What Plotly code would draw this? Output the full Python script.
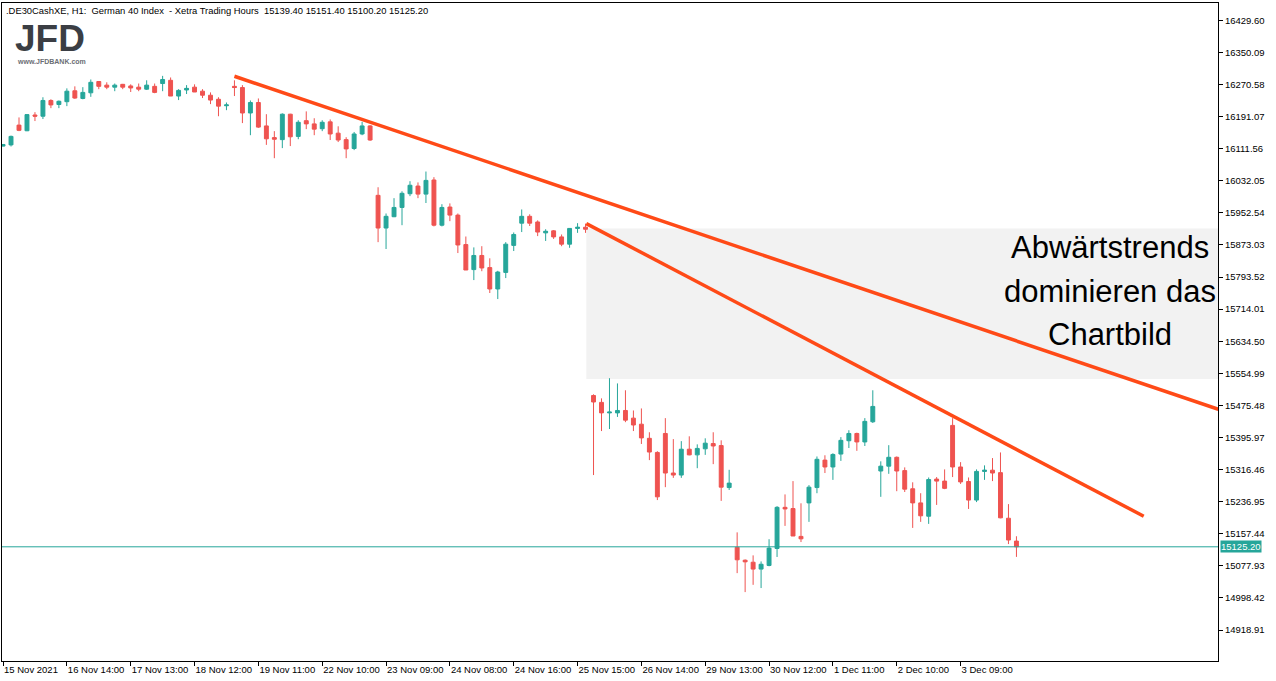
import plotly.graph_objects as go

# .DE30CashXE H1, 15 Nov - 3 Dec 2021 (x = bar number on the chart)
opens = [
    16118, 16121, 16170, 16156, 16195, 16192, 16231, 16221, 16228, 16255,
    16236, 16250, 16278, 16269, 16264, 16271, 16267, 16264, 16259, 16266,
    16273, 16281, 16242, 16257, 16264, 16254, 16244, 16234, 16218, 16266,
    16263, 16200, 16226, 16168, 16139, 16134, 16197, 16142, 16181, 16173,
    16161, 16178, 16150, 16134, 16112, 16148, 16168, 15996, 15915, 15943,
    15966, 16000, 16019, 15999, 16034, 15922, 15967, 15947, 15874, 15812,
    15847, 15817, 15764, 15805, 15872, 15927, 15944, 15930, 15903, 15908,
    15893, 15875, 15914, 15917, 15500, 15483, 15457, 15457, 15463, 15444,
    15429, 15394, 15359, 15406, 15308, 15303, 15367, 15353, 15368, 15381,
    15376, 15272, 15124, 15092, 15087, 15070, 15079, 15121, 15223, 15220,
    15151, 15234, 15272, 15340, 15323, 15355, 15388, 15406, 15385, 15435,
    15313, 15325, 15347, 15314, 15269, 15234, 15201, 15293, 15288, 15426,
    15323, 15287, 15241, 15312, 15315, 15309, 15196, 15139.40,
]
highs = [
    16123, 16144, 16189, 16197, 16202, 16239, 16234, 16231, 16261, 16266,
    16264, 16283, 16279, 16276, 16273, 16272, 16271, 16273, 16281, 16273,
    16292, 16288, 16259, 16269, 16271, 16259, 16251, 16239, 16226, 16281,
    16269, 16231, 16236, 16197, 16155, 16199, 16198, 16182, 16204, 16187,
    16182, 16184, 16167, 16140, 16153, 16178, 16170, 16016, 15951, 15989,
    16006, 16031, 16028, 16055, 16041, 15974, 15976, 15951, 15894, 15867,
    15870, 15840, 15809, 15880, 15904, 15961, 15949, 15934, 15912, 15910,
    15899, 15915, 15927, 15926, 15503, 15493, 15543, 15530, 15513, 15463,
    15468, 15409, 15362, 15444, 15392, 15387, 15399, 15379, 15394, 15409,
    15389, 15316, 15161, 15094, 15104, 15089, 15144, 15226, 15255, 15288,
    15233, 15278, 15349, 15352, 15357, 15397, 15414, 15408, 15444, 15513,
    15337, 15377, 15349, 15322, 15285, 15258, 15297, 15298, 15317, 15444,
    15335, 15297, 15317, 15327, 15345, 15359, 15231, 15151.40,
]
lows = [
    16117, 16117, 16155, 16155, 16180, 16185, 16212, 16212, 16217, 16235,
    16234, 16240, 16259, 16259, 16254, 16259, 16252, 16254, 16257, 16249,
    16254, 16242, 16232, 16247, 16252, 16237, 16222, 16192, 16207, 16242,
    16175, 16145, 16163, 16121, 16088, 16113, 16118, 16135, 16160, 16145,
    16155, 16133, 16128, 16088, 16108, 16145, 16131, 15880, 15863, 15942,
    15922, 15994, 15989, 15977, 15919, 15919, 15932, 15853, 15811, 15786,
    15808, 15754, 15739, 15791, 15858, 15905, 15920, 15895, 15883, 15888,
    15870, 15866, 15903, 15903, 15303, 15412, 15417, 15447, 15434, 15412,
    15380, 15340, 15241, 15273, 15296, 15296, 15352, 15320, 15353, 15330,
    15239, 15266, 15060, 15013, 15031, 15023, 15077, 15100, 15177, 15152,
    15137, 15187, 15258, 15308, 15291, 15338, 15370, 15363, 15375, 15432,
    15249, 15306, 15263, 15261, 15172, 15187, 15182, 15229, 15268, 15298,
    15281, 15219, 15236, 15291, 15288, 15196, 15132, 15100.20,
]
closes = [
    16122, 16142, 16157, 16196, 16192, 16231, 16220, 16229, 16254, 16237,
    16251, 16276, 16266, 16264, 16269, 16264, 16262, 16259, 16269, 16251,
    16283, 16242, 16256, 16261, 16252, 16244, 16232, 16217, 16220, 16263,
    16200, 16226, 16165, 16136, 16135, 16197, 16141, 16177, 16173, 16160,
    16177, 16148, 16133, 16111, 16148, 16168, 16133, 15915, 15944, 15966,
    16001, 16021, 15999, 16033, 15922, 15966, 15947, 15873, 15811, 15847,
    15816, 15764, 15806, 15875, 15899, 15944, 15927, 15905, 15907, 15893,
    15875, 15914, 15917, 15912, 15484, 15457, 15459, 15463, 15439, 15427,
    15395, 15360, 15249, 15308, 15303, 15367, 15353, 15369, 15382, 15375,
    15273, 15283, 15093, 15088, 15070, 15082, 15122, 15223, 15219, 15152,
    15145, 15273, 15342, 15323, 15354, 15389, 15406, 15385, 15436, 15473,
    15325, 15347, 15313, 15268, 15234, 15202, 15292, 15288, 15270, 15323,
    15286, 15241, 15312, 15315, 15308, 15197, 15142, 15125.20,
]

time_tick_bars = [0, 8, 16, 24, 32, 40, 48, 56, 64, 72, 80, 88, 96, 104, 112, 120]
time_tick_labels = [
    "15 Nov 2021", "16 Nov 14:00", "17 Nov 13:00", "18 Nov 12:00",
    "19 Nov 11:00", "22 Nov 10:00", "23 Nov 09:00", "24 Nov 08:00",
    "24 Nov 16:00", "25 Nov 15:00", "26 Nov 14:00", "29 Nov 13:00",
    "30 Nov 12:00", "1 Dec 11:00", "2 Dec 10:00", "3 Dec 09:00",
]
price_tick_labels = [
    "14918.91", "14998.42", "15077.93", "15157.44", "15236.95",
    "15316.46", "15395.97", "15475.48", "15554.99", "15634.50",
    "15714.01", "15793.52", "15873.03", "15952.54", "16032.05",
    "16111.56", "16191.07", "16270.58", "16350.09", "16429.60",
]
last_price = 15125.20

# hand-drawn trend lines and the gap zone (bar number, price)
upper_trend_x = [29.0, 152.3]
upper_trend_y = [16291, 15466]
lower_trend_x = [73.1, 142.95]
lower_trend_y = [15926, 15201]
zone_start = 73.1
zone_low = 15541
zone_high = 15914

UP = "#26a69a"
DOWN = "#ef5350"
TREND = "#ff4a17"
X_RANGE = [-0.13, 152.26]
Y_RANGE = [14842.3, 16472.5]

fig = go.Figure()

fig.add_shape(
    type="rect", xref="x", yref="y",
    x0=zone_start, x1=X_RANGE[1] + 1, y0=zone_low, y1=zone_high,
    fillcolor="#f2f2f2", line=dict(width=0), layer="below",
)
fig.add_shape(
    type="line", xref="paper", yref="y",
    x0=0, x1=1, y0=last_price, y1=last_price,
    line=dict(color=UP, width=1),
)

fig.add_trace(
    go.Candlestick(
        x=list(range(len(opens))),
        open=opens, high=highs, low=lows, close=closes,
        increasing=dict(line=dict(color=UP, width=1), fillcolor=UP),
        decreasing=dict(line=dict(color=DOWN, width=1), fillcolor=DOWN),
        hoverinfo="skip",
    )
)

for xs, ys in [(upper_trend_x, upper_trend_y), (lower_trend_x, lower_trend_y)]:
    fig.add_trace(
        go.Scatter(x=xs, y=ys, mode="lines", line=dict(color=TREND, width=3.5), hoverinfo="skip")
    )

tick_font = dict(family="Liberation Sans", size=9.5, color="black")

fig.update_layout(
    width=1276,
    height=681,
    margin=dict(l=2, r=58, t=3, b=20),
    paper_bgcolor="white",
    plot_bgcolor="white",
    showlegend=False,
    font=tick_font,
    xaxis=dict(
        type="linear",
        range=X_RANGE,
        tickvals=time_tick_bars,
        ticktext=time_tick_labels,
        tickangle=0,
        ticks="outside",
        ticklen=4,
        tickcolor="black",
        ticklabelposition="outside right",
        showline=True,
        linecolor="black",
        linewidth=1,
        mirror=True,
        showgrid=False,
        zeroline=False,
        rangeslider=dict(visible=False),
    ),
    yaxis=dict(
        side="right",
        range=Y_RANGE,
        tickvals=[float(t) for t in price_tick_labels],
        ticktext=price_tick_labels,
        ticks="outside",
        ticklen=4,
        tickcolor="black",
        showline=True,
        linecolor="black",
        linewidth=1,
        mirror=True,
        showgrid=False,
        zeroline=False,
    ),
)

header = ".DE30CashXE, H1:&nbsp; German 40 Index&nbsp; - Xetra Trading Hours&nbsp; 15139.40 15151.40 15100.20 15125.20"
fig.add_annotation(
    xref="paper", yref="paper", x=0.002, y=1.0, xanchor="left", yanchor="top",
    text=header, showarrow=False, font=dict(family="Liberation Sans", size=9.4, color="black"),
)
fig.add_annotation(
    xref="paper", yref="paper", x=0.009, y=0.98, xanchor="left", yanchor="top",
    text="<b>JFD</b>", showarrow=False,
    font=dict(family="Liberation Sans", size=37, color="#3b3e44"),
)
fig.add_annotation(
    xref="paper", yref="paper", x=0.011, y=0.92, xanchor="left", yanchor="top",
    text="<b>www.JFDBANK.com</b>", showarrow=False,
    font=dict(family="Liberation Sans", size=7, color="#6b6e74"),
)

for text, ypos in [("Abwärtstrends", 0.6287), ("dominieren das", 0.5619), ("Chartbild", 0.4965)]:
    fig.add_annotation(
        xref="paper", yref="paper", x=0.911, y=ypos, xanchor="center", yanchor="middle",
        text=text, showarrow=False,
        font=dict(family="Liberation Sans", size=31, color="black"),
    )

fig.add_annotation(
    xref="paper", yref="y", x=1.0, y=last_price, xanchor="left", yanchor="middle",
    xshift=2, text=f"{last_price:.2f}", showarrow=False,
    bgcolor=UP, borderpad=0,
    font=dict(family="Liberation Sans", size=9.5, color="white"),
)

fig.write_html(
    "out.html",
    config={"displayModeBar": False},
    post_script="document.body.style.margin='0';",
)
